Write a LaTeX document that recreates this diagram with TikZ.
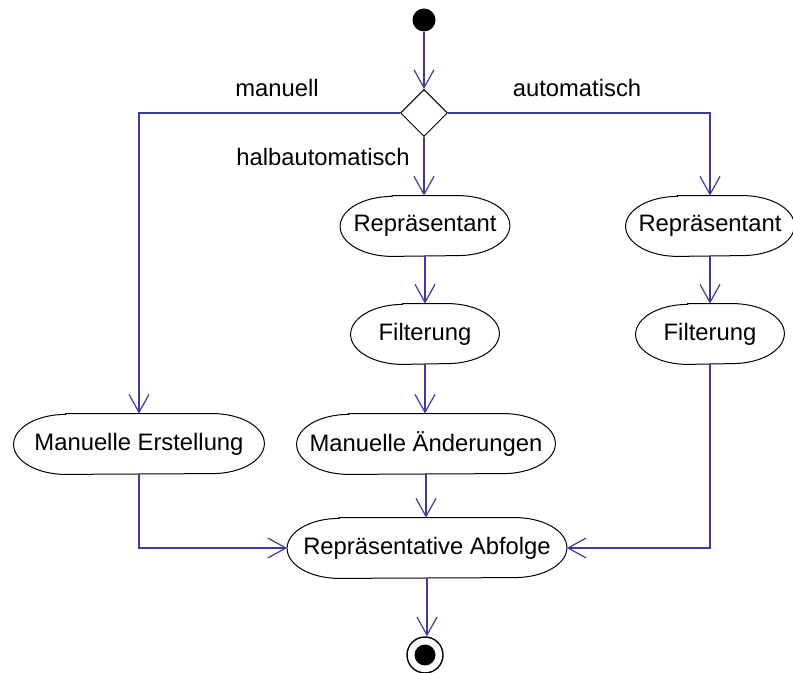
\documentclass[tikz,border=0pt]{standalone}
\usepackage{fontspec}
\setmainfont{Liberation Sans}
\usetikzlibrary{arrows.meta,shapes.geometric}
\definecolor{linec}{RGB}{60,60,160}
\begin{document}
\begin{tikzpicture}[x=0.5pt,y=-0.5pt,
  font=\fontsize{11.9}{14}\selectfont,
  act/.style={minimum height=30pt, inner sep=0pt},
  outline/.style={draw=black, line width=0.5pt},
  decision/.style={draw=black, line width=0.5pt, diamond, minimum width=23.5pt, minimum height=23.5pt, inner sep=0pt},
  startdot/.style={circle, fill=black, minimum size=11.5pt, inner sep=0pt},
  endring/.style={circle, draw=black, line width=0.7pt, minimum size=18pt, inner sep=0pt},
  enddot/.style={circle, fill=black, minimum size=10.5pt, inner sep=0pt},
  flow/.style={draw=linec, line width=0.6pt, -{Straight Barb[length=9pt,width=10pt]}},
  lbl/.style={inner sep=0pt}]
\useasboundingbox (0,0) rectangle (793,673);
\node[startdot] (start) at (424,20) {};
\node[decision] (dec) at (424,113) {};
\node[act, minimum width=84.5pt] (r1) at (425,226) {Repräsentant};
\node[act, minimum width=84pt] (r2) at (710,226) {Repräsentant};
\node[act, minimum width=74pt] (f1) at (425,334) {Filterung};
\node[act, minimum width=74pt] (f2) at (710,334) {Filterung};
\node[act, minimum width=125pt] (me) at (139,444) {Manuelle Erstellung};
\node[act, minimum width=129pt] (ma) at (426,444) {Manuelle Änderungen};
\node[act, minimum width=139.5pt] (ab) at (427,548) {Repräsentative Abfolge};
\foreach \n in {r1,r2,f1,f2,me,ma,ab}{
  \draw[outline] ([xshift=26pt]\n.north west) -- ([xshift=-26pt]\n.north east)
    arc[start angle=90,end angle=-90,x radius=26pt,y radius=15pt]
    -- ([xshift=26pt]\n.south west)
    arc[start angle=270,end angle=90,x radius=26pt,y radius=15pt] -- cycle;
}
\node[endring] (endr) at (425,655) {};
\node[enddot] (endd) at (endr) {};
\node[lbl] (lman) at (277,88) {manuell};
\node[lbl] (lauto) at (577,88) {automatisch};
\node[lbl] (lhalb) at (323,157) {halbautomatisch};
\draw[flow] (start) -- (dec);
\draw[flow] (dec.west) -| (me.north);
\draw[flow] (dec.east) -| (r2.north);
\draw[flow] (dec.south) -- (dec.south |- r1.north);
\draw[flow] (r1.south) -- (r1.south |- f1.north);
\draw[flow] (r2.south) -- (r2.south |- f2.north);
\draw[flow] (f1.south) -- (f1.south |- ma.north);
\draw[flow] (ma.south) -- (ma.south |- ab.north);
\draw[flow] (me.south) |- (ab.west);
\draw[flow] (f2.south) |- (ab.east);
\draw[flow] (ab.south) -- (ab.south |- endr.north);
\end{tikzpicture}
\end{document}
